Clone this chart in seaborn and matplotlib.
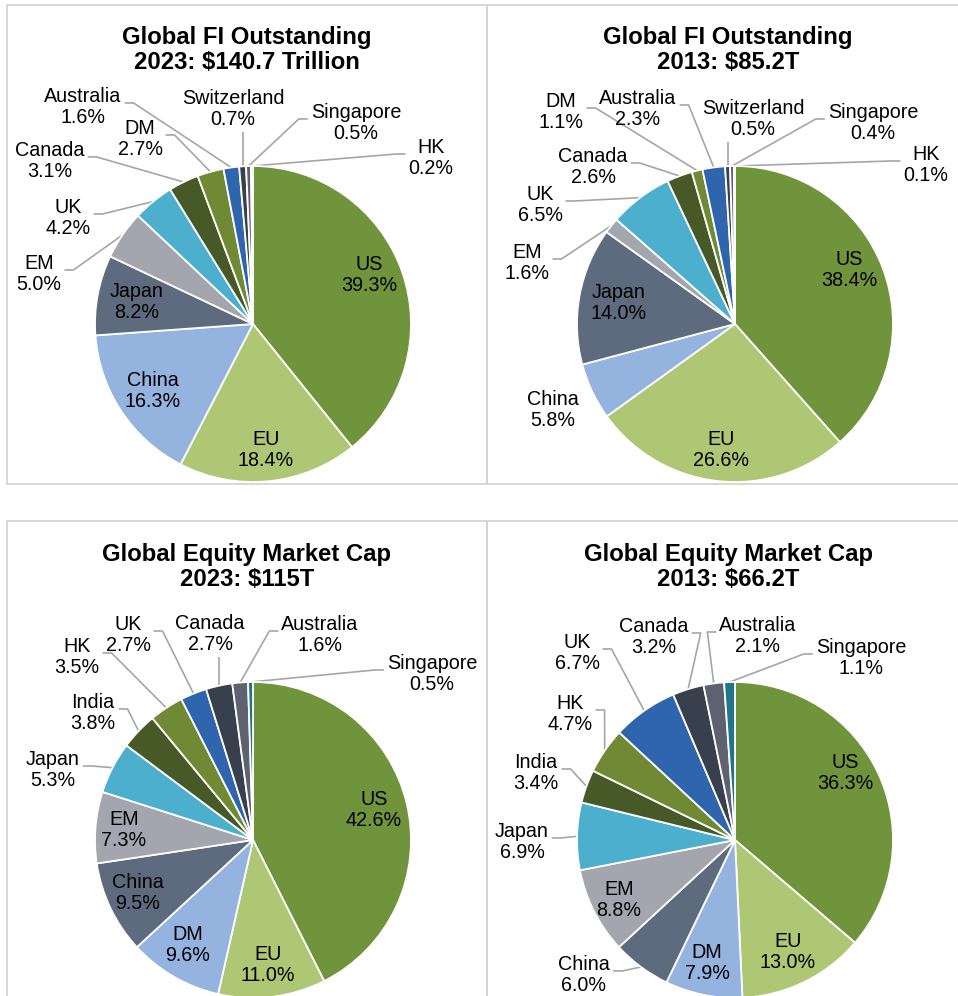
import matplotlib
matplotlib.use("Agg")
import matplotlib.pyplot as plt
import seaborn as sns
import numpy as np
from matplotlib.patches import Rectangle

# --- data -------------------------------------------------------------
fi_labels = ["US", "EU", "China", "Japan", "EM", "UK", "Canada", "DM",
             "Australia", "Switzerland", "Singapore", "HK"]
fi_2023 = [39.3, 18.4, 16.3, 8.2, 5.0, 4.2, 3.1, 2.7, 1.6, 0.7, 0.5, 0.2]
fi_2013 = [38.4, 26.6, 5.8, 14.0, 1.6, 6.5, 2.6, 1.1, 2.3, 0.5, 0.4, 0.1]

eq_labels = ["US", "EU", "DM", "China", "EM", "Japan", "India", "HK", "UK",
             "Canada", "Australia", "Singapore"]
eq_2023 = [42.6, 11.0, 9.6, 9.5, 7.3, 5.3, 3.8, 3.5, 2.7, 2.7, 1.6, 0.5]
eq_2013 = [36.3, 13.0, 7.9, 6.0, 8.8, 6.9, 3.4, 4.7, 6.7, 3.2, 2.1, 1.1]

titles = ["Global FI Outstanding\n2023: $140.7 Trillion",
          "Global FI Outstanding\n2013: $85.2T",
          "Global Equity Market Cap\n2023: $115T",
          "Global Equity Market Cap\n2013: $66.2T"]

# --- layout (pixels) --------------------------------------------------
W, H = 958, 996
R = 158
centers = [(253, 324), (735, 324), (253, 840), (735, 840)]
boxes = [(7, 5, 487, 484), (487, 5, 972, 484), (7, 521, 487, 1010), (487, 521, 972, 1010)]
title_pos = [(247, 50), (728, 50), (247, 567), (728, 567)]

# label offsets from pie centre in px (y up) + leader mode
lab1 = [(116, 49, None), (13, -126, None), (-100, -67, None), (-116, 22, None),
        (-214, 50, "r"), (-185, 106, "r"), (-203, 163, "r"), (-113, 185, "r"),
        (-170, 217, "r"), (-20, 215, "b"), (103, 201, "l"), (178, 166, "l")]
lab2 = [(114, 54, None), (-14, -126, None), (-182, -86, None), (-116, 21, None),
        (-208, 61, "r"), (-195, 119, "r"), (-142, 157, "r"), (-174, 212, "r"),
        (-97, 215, "r"), (18, 205, "b"), (138, 201, "l"), (191, 159, "l")]
lab3 = [(121, 30, None), (15, -125, None), (-65, -105, None), (-115, -53, None),
        (-129, 10, None), (-200, 70, "r"), (-160, 127, "r"), (-176, 183, "r"),
        (-125, 205, "r"), (-43, 206, "b"), (67, 205, "l"), (179, 166, "l")]
lab4 = [(110, 67, None), (53, -112, None), (-28, -123, None), (-151, -135, "r"),
        (-116, -60, None), (-213, -2, "r"), (-199, 67, "r"), (-165, 126, "r"),
        (-158, 187, "r"), (-81, 203, "r"), (23, 204, "l"), (126, 182, "l")]

panels = [(fi_labels, fi_2023, lab1), (fi_labels, fi_2013, lab2),
          (eq_labels, eq_2023, lab3), (eq_labels, eq_2013, lab4)]

palette = sns.color_palette(["#70943C", "#AEC774", "#94B3DF", "#5E6A7D",
                             "#A3A5AF", "#4CAFCD", "#465926", "#708934",
                             "#2E65AC", "#39404D", "#5E6270", "#21758A"])

sns.set_style("white")
plt.rcParams["font.family"] = ["Liberation Sans", "DejaVu Sans"]

fig = plt.figure(figsize=(W / 100, H / 100), dpi=100)
fig.patch.set_facecolor("white")

# panel borders
for x0, y0, x1, y1 in boxes:
    fig.add_artist(Rectangle((x0 / W, 1 - y1 / H), (x1 - x0) / W, (y1 - y0) / H,
                             transform=fig.transFigure, fill=False,
                             edgecolor="#D4D4D4", linewidth=1.3))

leader_jobs = []
for (labels, values, labpos), (cx, cy), (x0, y0, x1, y1), (tx, ty), title in zip(
        panels, centers, boxes, title_pos, titles):
    ax = fig.add_axes([x0 / W, 1 - y1 / H, (x1 - x0) / W, (y1 - y0) / H])
    wedges, _ = ax.pie(values, colors=palette, startangle=90, counterclock=False,
                       wedgeprops=dict(edgecolor="white", linewidth=1.3))
    # pie radius 1 -> R px, centred on (cx, cy)
    ax.set_xlim((x0 - cx) / R, (x1 - cx) / R)
    ax.set_ylim((cy - y1) / R, (cy - y0) / R)
    ax.set_aspect("auto")
    ax.axis("off")

    for lab, val, (dx, dy, mode), w in zip(labels, values, labpos, wedges):
        t = ax.text(dx / R, dy / R, f"{lab}\n{val:.1f}%", ha="center", va="center",
                    fontsize=14.2, color="black", linespacing=1.15)
        if mode:
            leader_jobs.append((ax, t, mode, w))

    fig.text(tx / W, 1 - ty / H, title, ha="center", va="center", fontsize=17.2,
             fontweight="bold", color="black", linespacing=1.1)

# leader lines: from text edge to the wedge's outer edge at mid angle
fig.canvas.draw()
renderer = fig.canvas.get_renderer()
for ax, t, mode, w in leader_jobs:
    bb = t.get_window_extent(renderer).transformed(ax.transData.inverted())
    ang = np.deg2rad((w.theta1 + w.theta2) / 2)
    ex, ey = np.cos(ang), np.sin(ang)
    gap, elbow = 3 / R, 9 / R
    ya = bb.y0 + 0.6 * bb.height
    if mode == "r":
        xs = [bb.x1 + gap, bb.x1 + gap + elbow, ex]
        ys = [ya, ya, ey]
    elif mode == "l":
        xs = [bb.x0 - gap, bb.x0 - gap - elbow, ex]
        ys = [ya, ya, ey]
    else:
        xs = [ex, ex]
        ys = [bb.y0 - gap, ey]
    ax.plot(xs, ys, color="#A6A6A6", linewidth=1.2, solid_capstyle="butt",
            zorder=0.5)

fig.savefig("out.png", dpi=100, facecolor="white")
